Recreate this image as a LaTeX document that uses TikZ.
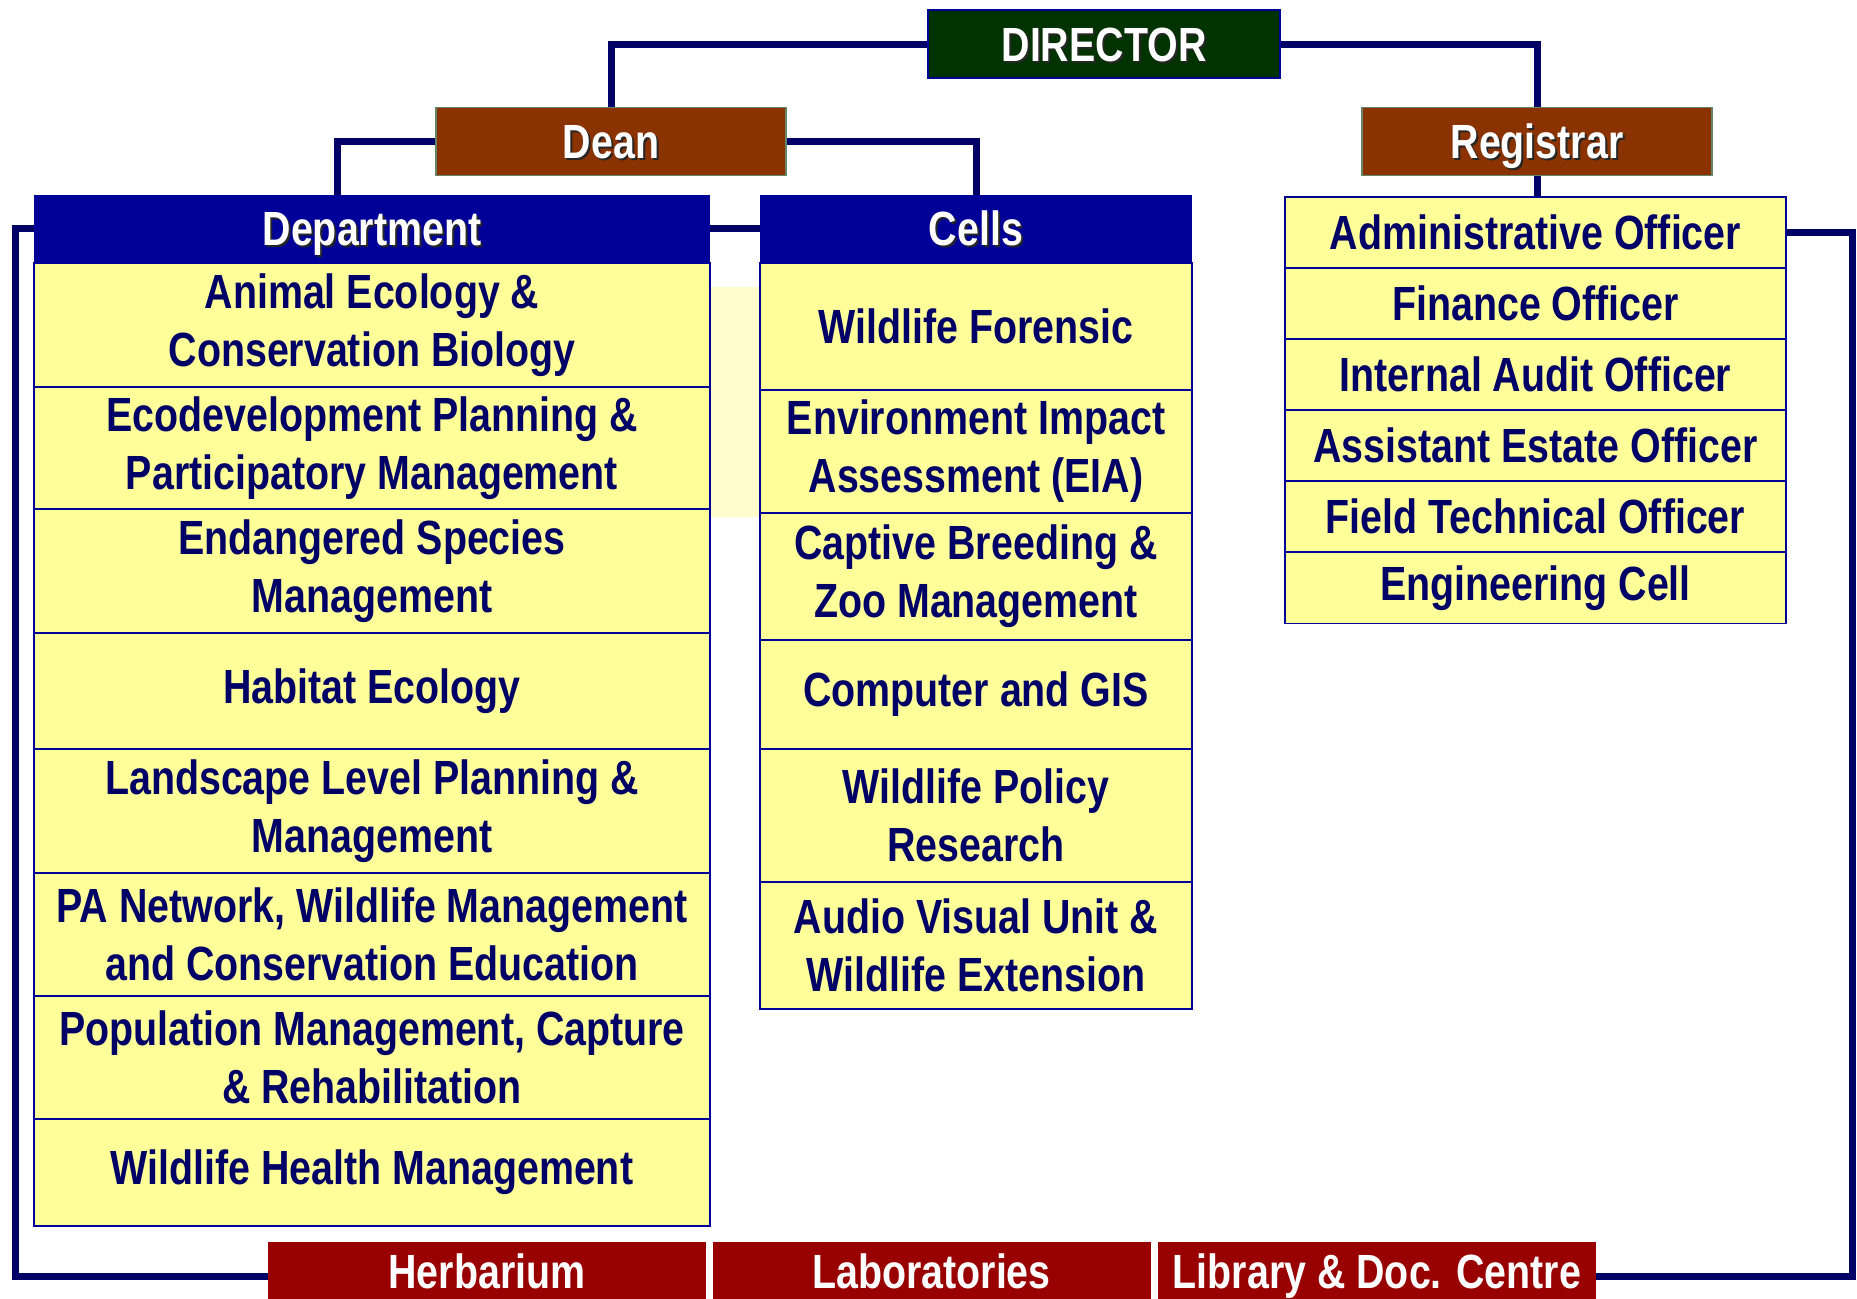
\documentclass[tikz,border=0pt]{standalone}
\usepackage{fontspec}
\newfontfamily\narrowfont[FakeStretch=0.82]{Liberation Sans}
\usepackage{tikz}
\definecolor{OrgLine}{RGB}{0,0,102}
\definecolor{OrgHead}{RGB}{0,0,153}
\definecolor{OrgCell}{RGB}{255,255,153}
\definecolor{OrgGreen}{RGB}{0,51,0}
\definecolor{OrgBrown}{RGB}{139,51,0}
\definecolor{OrgRed}{RGB}{153,0,0}
\definecolor{OrgPale}{RGB}{255,253,204}
\newcommand{\shadowed}[1]{\rlap{\hspace{1pt}\raisebox{-1pt}{\color{black!85}#1}}#1}

\begin{document}
\begin{tikzpicture}[x=0.5pt,y=-0.5pt,font=\narrowfont\bfseries\fontsize{24}{29}\selectfont,
  cellbox/.style={draw=OrgHead,line width=0.9pt,fill=OrgCell,text=OrgLine,align=center,inner sep=0pt,anchor=north,minimum width=#1},
  oneline/.style={text height=19.5pt,text depth=2.3pt},
  hdbox/.style={oneline,fill=OrgHead,text=white,inner sep=0pt,minimum height=33.5pt,minimum width=#1},
  topbox/.style={oneline,fill=#1,draw=OrgGreen!60,line width=0.8pt,text=white,inner sep=0pt,minimum width=175pt,minimum height=34pt},
  botbox/.style={text height=17.5pt,text depth=5pt,fill=OrgRed,text=white,inner sep=0pt,minimum width=219pt,minimum height=34pt},
  link/.style={draw=OrgLine,line width=3.5pt}]
\path[use as bounding box,clip] (0,0) rectangle (1857,1298);
\fill[OrgPale] (711,287) rectangle (760,517);
% heads
\node[topbox=OrgGreen,draw=OrgHead,minimum width=176pt] (director) at (1104,44) {\shadowed{DIRECTOR}};
\node[topbox=OrgBrown] (dean) at (611,141.5) {\shadowed{Dean}};
\node[topbox=OrgBrown] (registrar) at (1537,141.5) {\shadowed{Registrar}};
\node[hdbox=338pt] (depthd) at (372,228.5) {\shadowed{Department}};
\node[hdbox=216pt] (cellhd) at (976,228.5) {\shadowed{Cells}};
% departments
\foreach \t/\y/\h [count=\i] in %
{{Animal Ecology \&\\Conservation Biology}/262/62pt,
 {Ecodevelopment Planning \&\\Participatory Management}/386/61pt,
 {Endangered Species\\Management}/508/62pt,
 {Habitat Ecology}/632/58pt,
 {Landscape Level Planning \&\\Management}/748/62pt,
 {PA Network, Wildlife Management\\and Conservation Education}/872/61.5pt,
 {Population Management, Capture\\\& Rehabilitation}/995/61.5pt,
 {Wildlife Health Management}/1118/53.5pt} {
   \node[cellbox=338pt,minimum height=\h] (dept\i) at (372,\y) {\t};
}
% cells
\foreach \t/\y/\h [count=\i] in %
{{Wildlife Forensic}/262/63.5pt,
 {Environment Impact\\Assessment (EIA)}/389/61.5pt,
 {Captive Breeding \&\\Zoo Management}/512/63.5pt,
 {Computer and GIS}/639/54.5pt,
 {Wildlife Policy\\Research}/748/66.5pt,
 {Audio Visual Unit \&\\Wildlife Extension}/881/63.5pt} {
   \node[cellbox=216pt,minimum height=\h] (cell\i) at (976,\y) {\t};
}
% registrar side
\foreach \t [count=\i] in %
{Administrative Officer,Finance Officer,Internal Audit Officer,
 Assistant Estate Officer,Field Technical Officer,Engineering Cell} {
   \node[cellbox=250.5pt,minimum height=35.5pt] (adm\i) at (1535.5,{196+71.1*(\i-1)}) {\t};
}
% common facilities
\node[botbox] (herb) at (487,1276) {Herbarium};
\node[botbox] (lab) at (931.5,1276) {Laboratories};
\node[botbox] (lib) at (1377,1276) {Library \& Doc. Centre};
% links
\coordinate (deptin) at (337,195);
\draw[link] (director.west) -| (dean.north);
\draw[link] (director.east) -| (registrar.north);
\draw[link] (dean.west) -| (deptin);
\draw[link] (dean.east) -| (cellhd.north);
\draw[link] (registrar.south) -- (registrar.south |- adm1.north);
\draw[link] (depthd.east) -- (cellhd.west);
\draw[link] (depthd.west) -- ++(-18,0) |- (herb.west);
\draw[link] (adm1.east) -- ++(66,0) |- (lib.east);
\end{tikzpicture}
\end{document}
